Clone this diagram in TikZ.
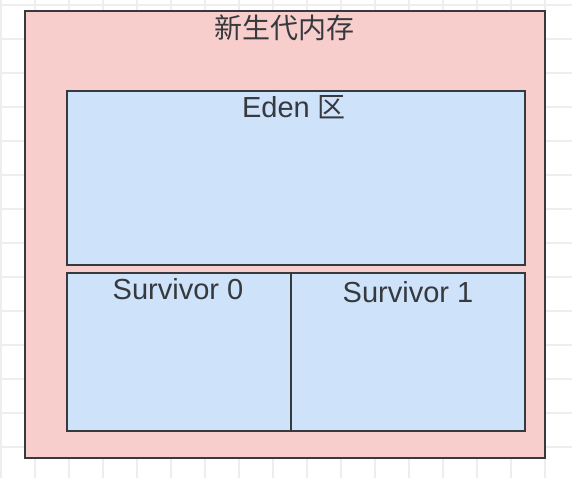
\documentclass[tikz,border=0pt]{standalone}
\usepackage{fontspec}
\setmainfont{Liberation Sans}
\newfontfamily\cjk{Noto Sans CJK SC}
\usepackage{tikz}
\usetikzlibrary{positioning}
\definecolor{heapred}{RGB}{248,206,204}
\definecolor{heapblue}{RGB}{206,226,250}
\definecolor{edgegray}{RGB}{54,57,61}
\definecolor{gridgray}{RGB}{238,238,238}
\tikzset{
	region/.style={draw=edgegray,line width=2pt,inner sep=0pt,outer sep=0pt,anchor=north west},
	gridline/.style={gridgray,line width=1.6pt},
	lbl/.style={text=edgegray,anchor=base,inner sep=0pt,font=\fontsize{29}{35}\selectfont},
	cjklbl/.style={lbl,font=\cjk\fontsize{28}{34}\selectfont}
}

\begin{document}
\begin{tikzpicture}[x=1pt,y=-1pt]
			\useasboundingbox (0,0) rectangle (572,478);
			\fill[white] (0,0) rectangle (572,478);
			\foreach \gx in {1,35,...,545} \draw[gridline] (\gx,0)--(\gx,478);
			\foreach \gy in {5,39,...,447} \draw[gridline] (0,\gy)--(572,\gy);
			
			\node[region,fill=heapred,minimum width=520pt,minimum height=447pt] (young) at (25,11) {};
			\node[region,fill=heapblue,minimum width=458pt,minimum height=174pt] (eden) at (67,91) {};
			\node[region,fill=heapblue,minimum width=224pt,minimum height=158pt,below=8pt of eden.south west,anchor=north west] (surv0) {};
			\node[region,fill=heapblue,minimum width=234pt,minimum height=158pt,right=0pt of surv0.north east,anchor=north west] (surv1) {};
			
			\node[cjklbl] (youngname) at ([yshift=-28pt,xshift=-1pt]young.north) {新生代内存};
			\node[lbl] (edenname) at ([yshift=-27pt,xshift=-2pt]eden.north) {Eden {\cjk\fontsize{28}{34}\selectfont 区}};
			\node[lbl] (surv0name) at ([yshift=-26pt,xshift=-1pt]surv0.north) {Survivor 0};
			\node[lbl] (surv1name) at ([yshift=-29pt]surv1.north) {Survivor 1};
		\end{tikzpicture}
\end{document}
